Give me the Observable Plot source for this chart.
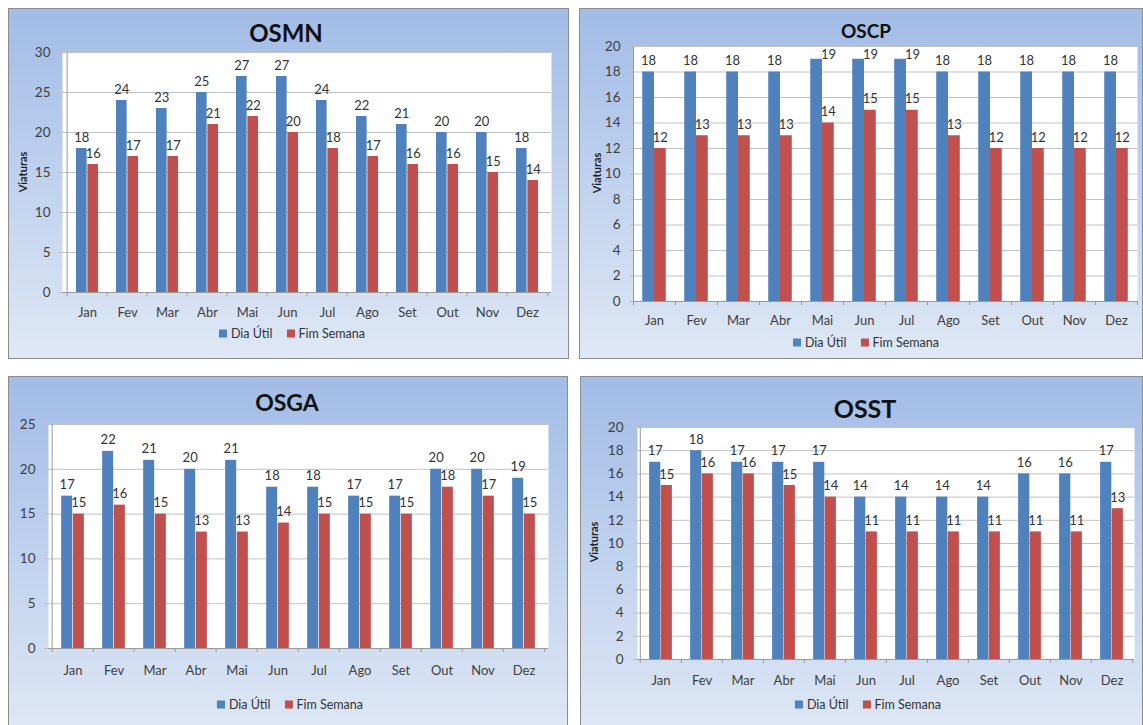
<!DOCTYPE html>
<html><head><meta charset="utf-8">
<script src="https://cdn.jsdelivr.net/npm/d3@7"></script>
<script src="https://cdn.jsdelivr.net/npm/@observablehq/plot@0.6"></script>
<style>
body{margin:0;width:1143px;height:725px;overflow:hidden;background:#fff;position:relative;font-family:Lato,"Open Sans",sans-serif;}
.panel{position:absolute;box-sizing:border-box;border:1px solid #8c8c8c;background:linear-gradient(to bottom,#a2bce6 0%,#c0d2ee 50%,#dfe8f5 100%);}
.panel svg{position:absolute;left:0;top:0;overflow:visible;}
.title{position:absolute;font-weight:bold;color:#111;transform:translate(-50%,-50%);white-space:nowrap;}
.ylab{position:absolute;font-weight:bold;font-size:11px;color:#222;transform:translate(-50%,-50%) rotate(-90deg);white-space:nowrap;}
.legend{position:absolute;display:flex;align-items:center;transform:translate(-50%,-50%);font-size:12.5px;color:#333;white-space:nowrap;}
.sw{display:inline-block;width:8px;height:8px;margin-right:4px;}
</style>
</head><body>
<script>
// ---- data ----
const months = ["Jan","Fev","Mar","Abr","Mai","Jun","Jul","Ago","Set","Out","Nov","Dez"];
const seriesNames = ["Dia Útil","Fim Semana"];

const osmnUtil = [18,24,23,25,27,27,24,22,21,20,20,18];
const osmnFim  = [16,17,17,21,22,20,18,17,16,16,15,14];
const oscpUtil = [18,18,18,18,19,19,19,18,18,18,18,18];
const oscpFim  = [12,13,13,13,14,15,15,13,12,12,12,12];
const osgaUtil = [17,22,21,20,21,18,18,17,17,20,20,19];
const osgaFim  = [15,16,15,13,13,14,15,15,15,18,17,15];
const osstUtil = [17,18,17,17,17,14,14,14,14,16,16,17];
const osstFim  = [15,16,16,15,14,11,11,11,11,11,11,13];

const ticksOSMN = [0,5,10,15,20,25,30];
const ticksOSCP = [0,2,4,6,8,10,12,14,16,18,20];
const ticksOSGA = [0,5,10,15,20,25];
const ticksOSST = [0,2,4,6,8,10,12,14,16,18,20];

const titles = ["OSMN","OSCP","OSGA","OSST"];
const yLabelText = "Viaturas";

// ---- styles / layout ----
const BLUE = "#4f81bd", RED = "#c0504d";
const FONT = "Lato, 'Open Sans', sans-serif";

const panels = [
  {title: titles[0], util: osmnUtil, fim: osmnFim, ticks: ticksOSMN,
   x: 8, y: 8, w: 561, h: 351, pl: 62, pr: 551, pt: 52, pb: 292,
   tx: 286, ty: 32, ts: 24, ylab: [22, 172], lg: [292, 333], xPad: 15, yPad: 12},
  {title: titles[1], util: oscpUtil, fim: oscpFim, ticks: ticksOSCP,
   x: 579, y: 8, w: 564, h: 351, pl: 633, pr: 1137, pt: 46, pb: 301,
   tx: 866, ty: 30, ts: 19, ylab: [596, 173], lg: [866, 342], xPad: 14, yPad: 13},
  {title: titles[2], util: osgaUtil, fim: osgaFim, ticks: ticksOSGA,
   x: 8, y: 376, w: 560, h: 360, pl: 48, pr: 548, pt: 424, pb: 648,
   tx: 287, ty: 402, ts: 23, ylab: null, lg: [290, 704], xPad: 17, yPad: 13},
  {title: titles[3], util: osstUtil, fim: osstFim, ticks: ticksOSST,
   x: 580, y: 376, w: 563, h: 360, pl: 637, pr: 1134, pt: 427, pb: 659,
   tx: 865, ty: 408, ts: 25, ylab: [593, 542], lg: [868, 704], xPad: 16, yPad: 14}
];

function chart(c) {
  const ox = c.x + 1, oy = c.y + 1;
  const W = c.w - 2, H = c.h - 2;
  const bw = (c.pr - c.pl) / 12;
  const barW = bw * 0.28, gap = bw * 0.22;
  const max = d3.max(c.ticks);
  const rows = months.map((m, i) => ({m, util: c.util[i], fim: c.fim[i]}));
  const off = bw / 2 - gap - barW / 2;
  // labels that would run past the plot top are nudged right/down (as the spreadsheet does)
  const tooHigh = v => (c.pb - v / max * (c.pb - c.pt)) - 20 < c.pt - 3;
  const normal = rows.filter(r => !tooHigh(r.util));
  const high = rows.filter(r => tooHigh(r.util));
  const grey = "#9a9a9a";
  return Plot.plot({
    width: W, height: H,
    marginLeft: c.pl - ox, marginRight: ox + W - c.pr,
    marginTop: c.pt - oy, marginBottom: oy + H - c.pb,
    style: {background: "transparent", fontFamily: FONT, fontSize: "13px", color: "#404040", overflow: "visible"},
    x: {domain: months, padding: 0, axis: null, label: null},
    y: {domain: [0, max], axis: null, label: null},
    marks: [
      Plot.frame({fill: "white", stroke: null}),
      Plot.ruleY(c.ticks, {stroke: "#c2c2c2", insetLeft: -4}),
      Plot.ruleX([months[0]], {stroke: grey, dx: -bw / 2}),
      Plot.ruleX(months, {stroke: grey, dx: -bw / 2, y1: 0, y2: 0, insetBottom: -4}),
      Plot.ruleX([months[11]], {stroke: grey, dx: bw / 2, y1: 0, y2: 0, insetBottom: -4}),
      Plot.barY(rows, {x: "m", y: "util", fill: BLUE, insetLeft: gap, insetRight: bw - gap - barW}),
      Plot.barY(rows, {x: "m", y: "fim", fill: RED, insetLeft: gap + barW, insetRight: gap}),
      Plot.ruleY([0], {stroke: grey}),
      Plot.text(normal, {x: "m", y: "util", text: "util", dx: -off, dy: -7, lineAnchor: "bottom", fill: "#333"}),
      Plot.text(high, {x: "m", y: "util", text: "util", dx: -off + 12, dy: 0, lineAnchor: "bottom", fill: "#333"}),
      Plot.text(rows, {x: "m", y: "fim", text: "fim", dx: off, dy: -7, lineAnchor: "bottom", fill: "#333"}),
      Plot.axisY({ticks: c.ticks, tickSize: 0, tickPadding: c.yPad, fontSize: 13.5, label: null}),
      Plot.axisX({tickSize: 0, tickPadding: c.xPad, fontSize: 13, label: null})
    ]
  });
}

for (const c of panels) {
  const div = document.createElement("div");
  div.className = "panel";
  Object.assign(div.style, {left: c.x + "px", top: c.y + "px", width: c.w + "px", height: c.h + "px"});
  div.appendChild(chart(c));
  const ox = c.x + 1, oy = c.y + 1;
  const t = document.createElement("div");
  t.className = "title";
  t.textContent = c.title;
  Object.assign(t.style, {left: (c.tx - ox) + "px", top: (c.ty - oy) + "px", fontSize: c.ts + "px"});
  div.appendChild(t);
  if (c.ylab) {
    const yl = document.createElement("div");
    yl.className = "ylab";
    yl.textContent = yLabelText;
    Object.assign(yl.style, {left: (c.ylab[0] - ox) + "px", top: (c.ylab[1] - oy) + "px"});
    div.appendChild(yl);
  }
  const lg = document.createElement("div");
  lg.className = "legend";
  Object.assign(lg.style, {left: (c.lg[0] - ox) + "px", top: (c.lg[1] - oy) + "px"});
  lg.innerHTML = `<span class="sw" style="background:${BLUE}"></span><span>${seriesNames[0]}</span>` +
    `<span class="sw" style="background:${RED};margin-left:14px"></span><span>${seriesNames[1]}</span>`;
  div.appendChild(lg);
  document.body.appendChild(div);
}
</script>
</body></html>
